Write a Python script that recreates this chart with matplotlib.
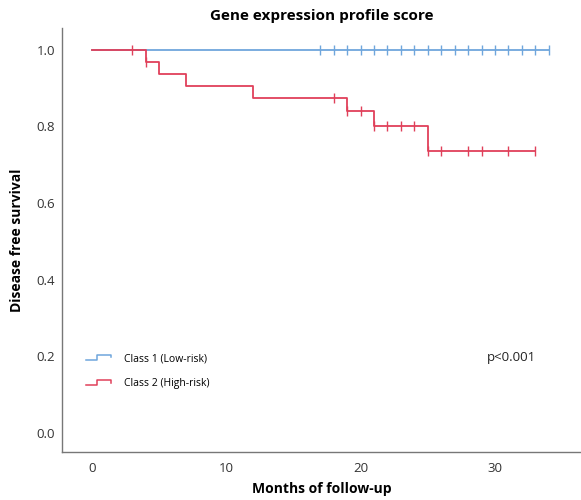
import matplotlib
matplotlib.use("Agg")
import matplotlib.pyplot as plt
from matplotlib.legend_handler import HandlerBase
from matplotlib.lines import Line2D

plt.rcParams["font.family"] = ["Open Sans", "DejaVu Sans"]

# Kaplan-Meier steps (time, survival) and censoring times
low_times = [0, 34]
low_surv = [1.0, 1.0]
low_censor = list(range(17, 35))

high_times = [0, 4, 5, 7, 12, 19, 21, 25, 33]
high_surv = [1.0, 0.969, 0.938, 0.906, 0.875, 0.840, 0.802, 0.735, 0.735]
high_censor = [3, 4, 18, 19, 20, 21, 22, 23, 24, 25, 26, 28, 29, 31, 33]

labels = ["Class 1 (Low-risk)", "Class 2 (High-risk)"]
BLUE = "#6fa6dc"
RED = "#e0405a"


def surv_at(times, surv, t):
    s = surv[0]
    for ti, si in zip(times, surv):
        if ti <= t:
            s = si
    return s


class StepHandler(HandlerBase):
    def create_artists(self, legend, orig, xd, yd, w, h, fontsize, trans):
        x = [xd, xd + 0.45 * w, xd + 0.45 * w, xd + w, xd + w]
        y = [yd + 0.15 * h, yd + 0.15 * h, yd + 0.85 * h, yd + 0.85 * h, yd + 0.5 * h]
        ln = Line2D(x, y, color=orig.get_color(), lw=1.1, transform=trans)
        return [ln]


fig = plt.figure(figsize=(5.81, 5.0), dpi=100)
ax = fig.add_axes([0.107, 0.096, 0.893, 0.848])

h1, = ax.step(low_times, low_surv, where="post", color=BLUE, lw=1.3)
ax.plot(low_censor, [surv_at(low_times, low_surv, t) for t in low_censor],
        ls="none", marker="|", ms=7, mew=1.0, color=BLUE)
h2, = ax.step(high_times, high_surv, where="post", color=RED, lw=1.3)
ax.plot(high_censor, [surv_at(high_times, high_surv, t) for t in high_censor],
        ls="none", marker="|", ms=7, mew=1.0, color=RED)

ax.set_xlim(-2.21, 36.4)
ax.set_ylim(-0.05, 1.057)
ax.set_xticks([0, 10, 20, 30])
ax.set_yticks([0.0, 0.2, 0.4, 0.6, 0.8, 1.0])
ax.set_yticklabels(["0.0", "0.2", "0.4", "0.6", "0.8", "1.0"])
ax.tick_params(axis="x", length=0, labelsize=9.5, labelcolor="#333333", pad=7)
ax.tick_params(axis="y", length=0, labelsize=9.5, labelcolor="#333333", pad=5)
for side in ("top", "right"):
    ax.spines[side].set_visible(False)
for side in ("left", "bottom"):
    ax.spines[side].set_color("#777777")
    ax.spines[side].set_linewidth(1.0)

ax.set_xlabel("Months of follow-up", fontsize=10, fontweight="bold", labelpad=5)
ax.set_ylabel("Disease free survival", fontsize=10, fontweight="bold", labelpad=9)
ax.set_title("Gene expression profile score", fontsize=11, fontweight="bold", pad=6)

ax.legend([h1, h2], labels, handler_map={Line2D: StepHandler()},
          loc="lower left", bbox_to_anchor=(0.028, 0.126), frameon=False,
          fontsize=7.5, handlelength=2.4, labelspacing=1.35, handletextpad=1.2)
ax.text(0.819, 0.222, "p<0.001", transform=ax.transAxes, fontsize=9.5,
        va="center", color="#222222")

fig.savefig("out.png", dpi=100)
